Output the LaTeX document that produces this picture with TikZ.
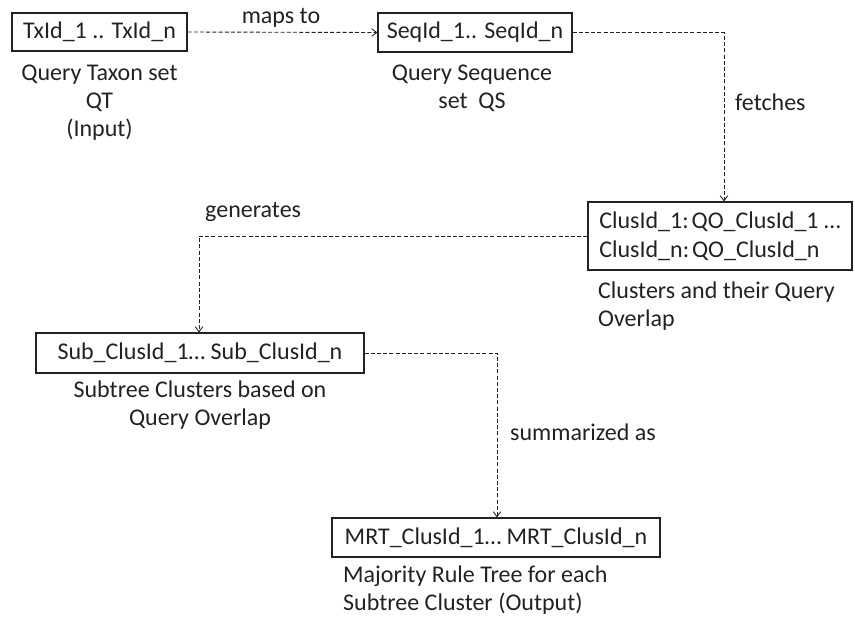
\documentclass[tikz,border=0pt]{standalone}
\usepackage{fontspec}
\setmainfont{Carlito}
\usetikzlibrary{arrows.meta}
\definecolor{ink}{HTML}{222222}
\begin{document}
\begin{tikzpicture}[x=1pt,y=-1pt,
  every node/.style={text=ink,font=\fontsize{24}{29}\selectfont},
  box/.style={draw=ink,line width=1.1pt,inner sep=0pt,rectangle},
  lbl/.style={anchor=base,inner sep=0pt},
  lbll/.style={anchor=base west,inner sep=0pt},
  conn/.style={draw=ink,line width=0.9pt,dash pattern=on 4pt off 2.2pt,
    -{Straight Barb[length=5pt,width=7.5pt,line width=0.9pt]}}]
\useasboundingbox (0,0) rectangle (855,622);
% boxes
\node[box,minimum width=175pt,minimum height=38pt] (b1) at (99.5,32) {TxId\_1 .. TxId\_n};
\node[box,minimum width=194pt,minimum height=39pt] (b2) at (475,32.5) {SeqId\_1.. SeqId\_n};
\node[box,minimum width=264pt,minimum height=68pt,align=left] (b3) at (720,236)
  {ClusId\_1:\hspace{0.12em}QO\_ClusId\_1 …\\ClusId\_n:\hspace{0.12em}QO\_ClusId\_n};
\node[box,minimum width=328pt,minimum height=40pt] (b4) at (200,353) {Sub\_ClusId\_1… Sub\_ClusId\_n};
\node[box,minimum width=328pt,minimum height=39pt] (b5) at (496,537.5) {MRT\_ClusId\_1… MRT\_ClusId\_n};
% captions
\node[lbl] (c1a) at (99.5,80) {Query Taxon set};
\node[lbl] (c1b) at (99.5,108) {QT};
\node[lbl] (c1c) at (99.5,136) {(Input)};
\node[lbl] (c2a) at (472,80) {Query Sequence};
\node[lbl] (c2b) at (472,108) {set\ \ QS};
\node[lbll] (c3a) at (598,298) {Clusters and their Query};
\node[lbll] (c3b) at (598,326) {Overlap};
\node[lbl] (c4a) at (200,397) {Subtree Clusters based on};
\node[lbl] (c4b) at (200,425) {Query Overlap};
\node[lbll] (c5a) at (343,582) {Majority Rule Tree for each};
\node[lbll] (c5b) at (343,610) {Subtree Cluster (Output)};
% connector labels
\node[lbl] (l1) at (281,23) {maps to};
\node[lbll] (l2) at (735,110) {fetches};
\node[lbll] (l3) at (205,217) {generates};
\node[lbll] (l4) at (510,440) {summarized as};
% connectors
\draw[conn] (b1.east) -- (b2.west);
\draw[conn] (b2.east) -| ([xshift=4pt]b3.north);
\draw[conn] (b3.west) -| ([xshift=-1pt]b4.north);
\draw[conn] (b4.east) -| ([xshift=1pt]b5.north);
\end{tikzpicture}
\end{document}
